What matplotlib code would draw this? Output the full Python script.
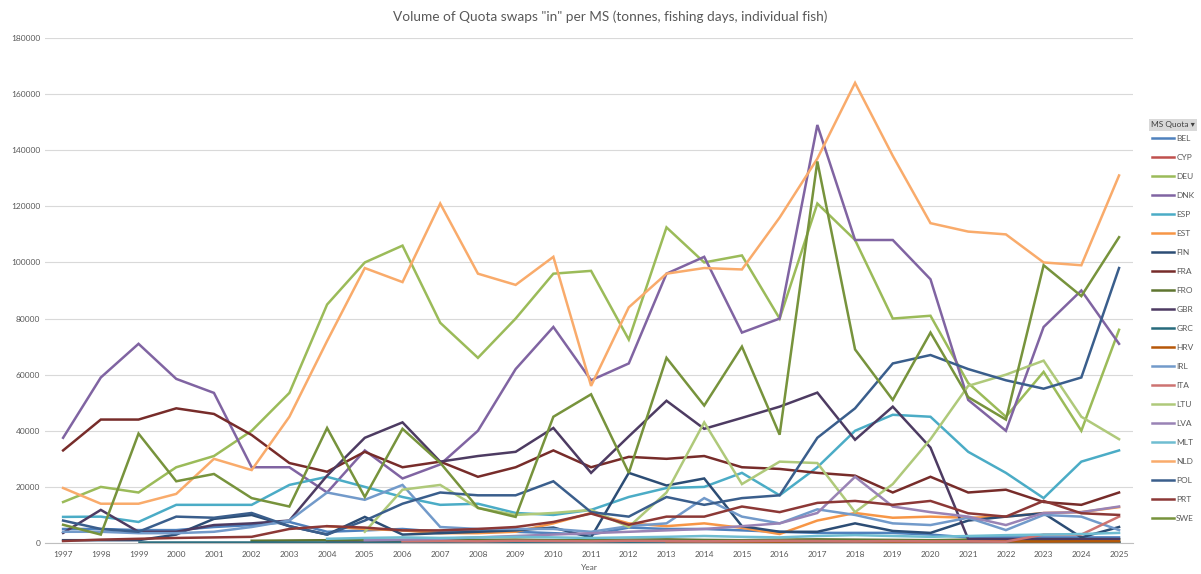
import numpy as np
import matplotlib
matplotlib.use("Agg")
import matplotlib.pyplot as plt

nan = np.nan

years = list(range(1997, 2026))
countries = ["BEL", "CYP", "DEU", "DNK", "ESP", "EST", "FIN", "FRA", "FRO", "GBR", "GRC",
             "HRV", "IRL", "ITA", "LTU", "LVA", "MLT", "NLD", "POL", "PRT", "SWE"]

# values (one per year 1997..2025)
BEL = [5000, 5000, 4600, 4600, 5700, 6400, 7500, 4000, 4500, 5000, 4000, 4500, 4000, 3500, 3000,
       5500, 5000, 5000, 4500, 4000, 3600, 3600, 3600, 3000, 2000, 2000, 2000, 2000, 2000]
CYP = [nan, nan, nan, nan, nan, nan, nan, 300, 300, 400, 300, 300, 400, 300, 300,
       500, 400, 300, 300, 300, 400, 500, 400, 300, 300, 300, 400, 300, 300]
DEU = [14600, 20000, 18000, 27000, 31000, 40000, 53500, 85000, 100000, 106000, 78500, 66000, 80000,
       96000, 97000, 72500, 112500, 100000, 102500, 80000, 121000, 108000, 80000, 81000, 57000,
       45000, 61000, 40000, 76000]
DNK = [37500, 59000, 71000, 58500, 53500, 27000, 27000, 18000, 33000, 23000, 28000, 40000, 62000,
       77000, 58000, 64000, 96000, 102000, 75000, 80000, 149000, 108000, 108000, 94000, 51000,
       40000, 77000, 90000, 71000]
ESP = [9300, 9400, 7500, 13600, 13600, 13600, 20700, 23600, 20000, 16400, 13600, 14000, 10700,
       10000, 11800, 16400, 19600, 20000, 25000, 17000, 27000, 40000, 45700, 45000, 32500, 25000,
       16000, 29000, 33000]
EST = [nan, nan, nan, nan, nan, nan, nan, 6000, 5000, 4500, 3500, 3500, 4000, 7000, 10700, 7000,
       6000, 7000, 5400, 3200, 8000, 10700, 9000, 9400, 9000, 9400, 10700, 11000, 12800]
FIN = [1000, 1000, 1000, 3000, 8600, 10000, 6000, 3000, 9300, 3000, 3500, 4000, 4500, 5500, 2000,
       25000, 20500, 23000, 6000, 4000, 4000, 7000, 4300, 3600, 8000, 9400, 10600, 2000, 5700]
FRA = [33000, 44000, 44000, 48000, 46000, 38500, 28500, 25400, 32500, 27000, 29000, 23600, 27000,
       33000, 27000, 30700, 30000, 31000, 27000, 26400, 25000, 24000, 18000, 23600, 18000, 19000,
       14600, 13600, 18000]
FRO = [nan, nan, nan, nan, nan, 800, 900, 1000, 1200, 1000, 900, 1100, 1200, 1000, 1000,
       1200, 1300, 1100, 1000, 1200, 1300, 1200, 1100, 1000, 1200, 1100, 1000, 1200, 1300]
GBR = [3600, 11800, 4000, 4000, 6400, 7000, 8000, 24000, 37500, 43000, 29000, 31000, 32500, 41000,
       25000, 38000, 50700, 40700, 44600, 48600, 53600, 36800, 48600, 34000, 1400, 1400, 1400,
       1400, 1400]
GRC = [nan, nan, 500, 500, 500, 500, 500, 500, 500, 500, 500, 500, 500, 500, 500,
       500, 500, 500, 500, 500, 500, 500, 500, 500, 500, 500, 500, 500, 500]
HRV = [nan, nan, nan, nan, nan, nan, nan, nan, nan, nan, nan, nan, nan, nan, nan, nan,
       600, 600, 500, 500, 600, 600, 500, 500, 600, 600, 500, 600, 600]
IRL = [4000, 4000, 3500, 3500, 4000, 5700, 8000, 18000, 15400, 20700, 5700, 5000, 5000, 5000, 4000,
       6000, 7000, 16000, 9400, 7000, 12000, 10000, 7000, 6400, 9000, 4600, 10000, 9400, 4600]
ITA = [nan, nan, nan, nan, nan, nan, nan, nan, nan, 600, 700, 600, 800, 700, 600,
       800, 700, 600, 700, 800, 700, 600, 700, 600, 600, 500, 3000, 3000, 9400]
LTU = [nan, nan, nan, nan, nan, nan, nan, nan, 4000, 19000, 20700, 12500, 10000, 10700, 11800,
       5700, 18000, 43000, 21000, 29000, 28500, 11000, 21000, 37000, 56000, 60000, 65000, 45000,
       37000]
LVA = [nan, nan, nan, nan, nan, nan, nan, nan, 1000, 1200, 1500, 2000, 2500, 3000, 3500,
       4000, 4500, 5000, 6000, 7000, 10700, 23600, 13000, 11000, 9400, 6400, 10700, 11000, 13000]
MLT = [nan, nan, nan, nan, nan, nan, nan, 1500, 1800, 2000, 1800, 2000, 2200, 2000, 1800,
       2000, 2200, 2500, 2200, 2000, 2500, 2800, 2500, 2200, 2500, 2800, 3000, 3200, 3600]
NLD = [19600, 14000, 14000, 17500, 30000, 26000, 45000, 72000, 98000, 93000, 121000, 96000, 92000,
       102000, 56000, 84000, 96000, 98000, 97500, 116000, 137000, 164000, 138000, 114000, 111000,
       110000, 100000, 99000, 131000]
POL = [8000, 5000, 4000, 9400, 9000, 10700, 6000, 3000, 8000, 14000, 18000, 17000, 17000, 22000,
       11000, 9400, 16400, 13600, 16000, 17000, 37500, 48000, 64000, 67000, 62000, 58000, 55000,
       59000, 98000]
PRT = [700, 1200, 1500, 1800, 2000, 2200, 5000, 6000, 5500, 4500, 4500, 5000, 5700, 7500, 10500,
       6500, 9400, 9400, 13000, 11000, 14300, 15000, 13600, 15000, 10600, 9400, 15000, 10600, 10000]
SWE = [6500, 3000, 39000, 22000, 24600, 16000, 13000, 41000, 16400, 40700, 28600, 12500, 9300,
       45000, 53000, 25000, 66000, 49000, 70000, 38600, 136000, 69000, 51000, 75000, 52000, 44000,
       99000, 88000, 109000]

series = [BEL, CYP, DEU, DNK, ESP, EST, FIN, FRA, FRO, GBR, GRC,
          HRV, IRL, ITA, LTU, LVA, MLT, NLD, POL, PRT, SWE]

colors = ["#4F81BD", "#C0504D", "#9BBB59", "#8064A2", "#4BACC6", "#F79646",
          "#2C4D75", "#772C2A", "#5F7530", "#4D3B62", "#276A7C", "#B65708",
          "#729ACA", "#CD7371", "#AFC97A", "#9983B5", "#6FBDD1", "#F9AB6B",
          "#3A5E8C", "#8C3836", "#77933C"]

plt.rcParams["font.family"] = ["Lato", "DejaVu Sans"]
text_col = "#595959"

fig = plt.figure(figsize=(12.01, 5.74), dpi=100)
ax = fig.add_axes([45 / 1201, 1 - 543 / 574, (1133 - 45) / 1201, (543 - 38) / 574])

for name, vals, col in zip(countries, series, colors):
    ax.plot(years, vals, color=col, lw=1.8, label=name, solid_joinstyle="miter")

ax.set_xlim(1996.52, 2025.37)
ax.set_ylim(0, 180000)
ax.set_xticks(years)
ax.set_yticks(np.arange(0, 180001, 20000))
ax.yaxis.grid(True, color="#D9D9D9", lw=0.8)
ax.set_axisbelow(True)
for s in ["top", "right", "left"]:
    ax.spines[s].set_visible(False)
ax.spines["bottom"].set_color("#BFBFBF")
ax.tick_params(length=0, labelsize=6, colors=text_col)
ax.tick_params(axis="x", pad=6)
ax.set_xlabel("Year", fontsize=6, color=text_col, labelpad=4)

fig.text(0.508, 1 - 17 / 574, 'Volume of Quota swaps "in" per MS (tonnes, fishing days, individual fish)',
         ha="center", va="center", fontsize=9.8, color=text_col)

leg = fig.legend(loc="upper left", bbox_to_anchor=(1152 / 1201, 1 - 135 / 574), frameon=False,
                 fontsize=6, handlelength=2.6, handletextpad=0.3, labelspacing=1.44,
                 borderaxespad=0, borderpad=0)
for t in leg.get_texts():
    t.set_color(text_col)
fig.text(1151 / 1201, 1 - 125 / 574, "MS Quota \u25BE", fontsize=6, color="#404040",
         va="center", ha="left",
         bbox=dict(facecolor="#D9D9D9", edgecolor="none", boxstyle="square,pad=0.3"))

fig.savefig("out.png", dpi=100)
